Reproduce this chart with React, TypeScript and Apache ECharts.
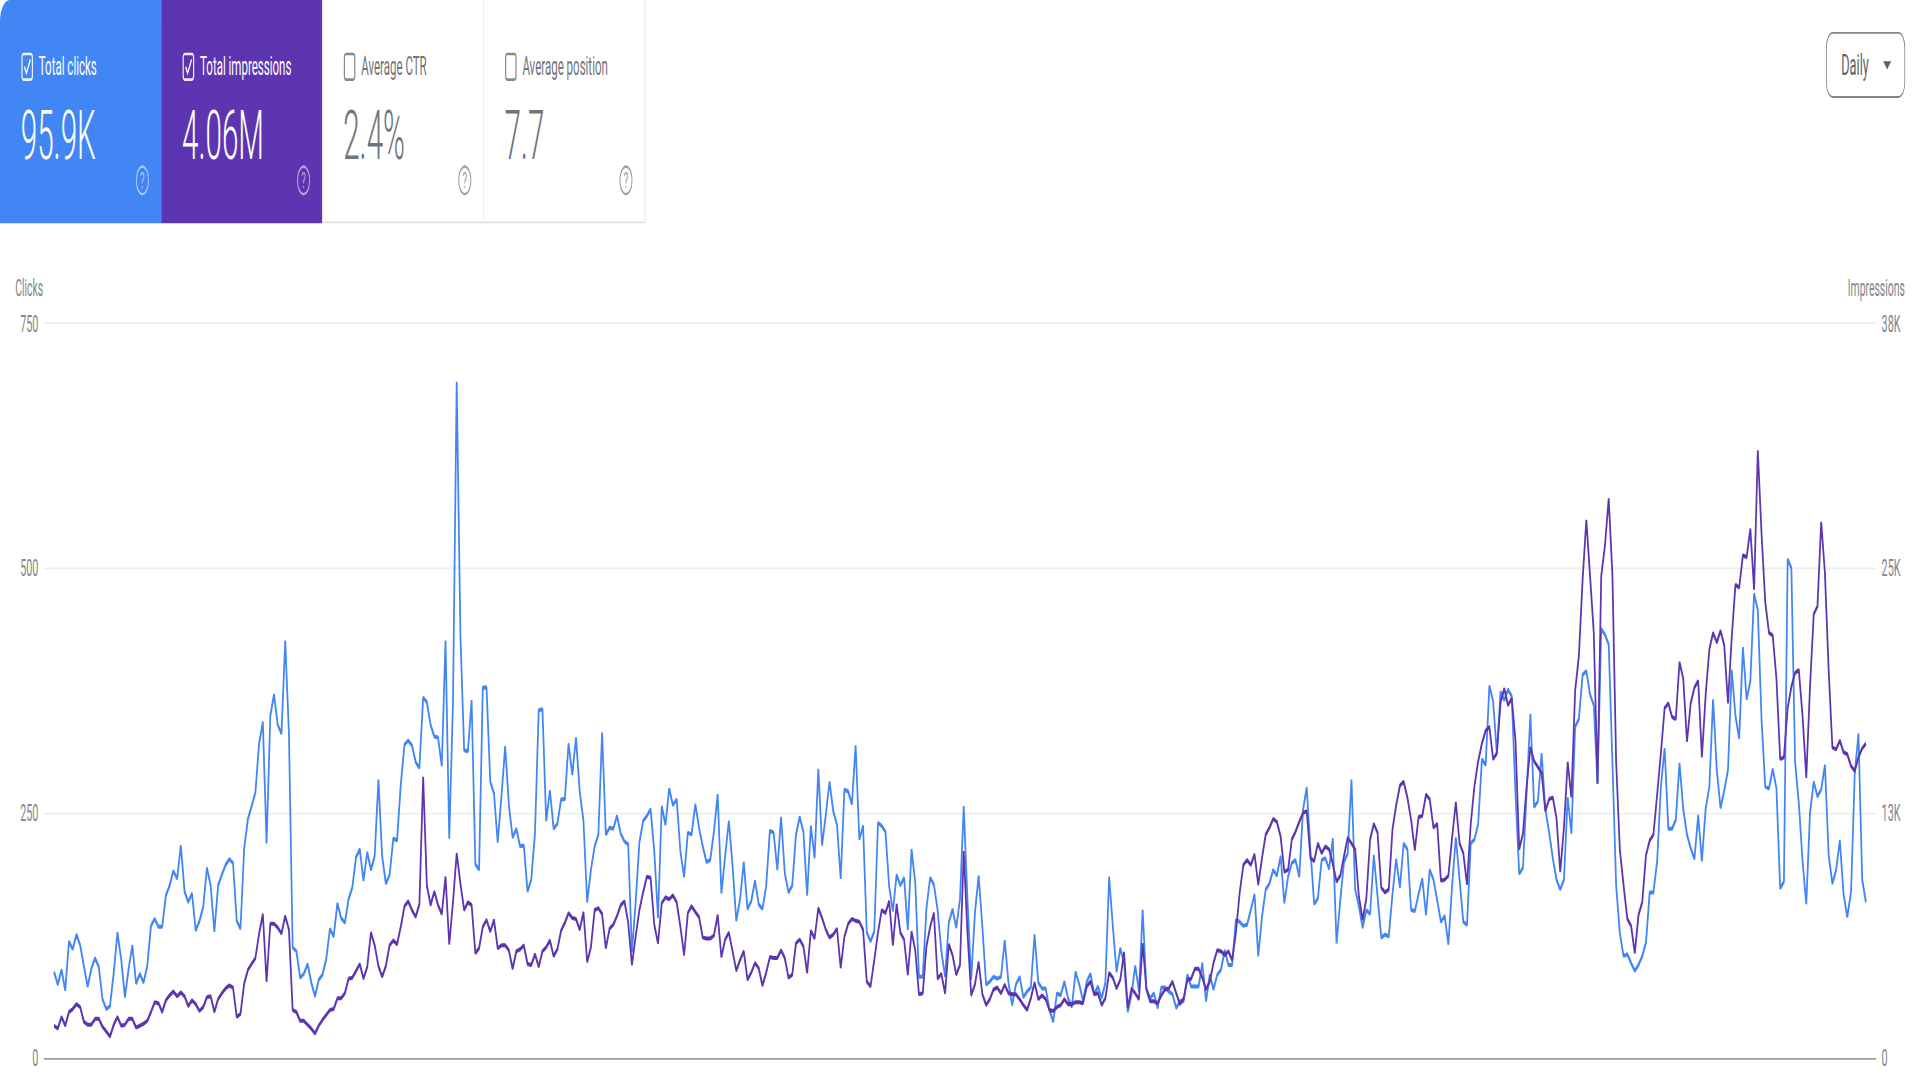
import React, { useEffect, useRef } from "react";
import * as echarts from "echarts";

const clicks = [
  88,75,90,69,119,111,126,115,94,73,91,102,93,60,50,53,87,128,101,62,91,115,76,86,77,94,135,142,134,134,166,176,191,183,217,170,159,168,130,140,154,194,176,129,176,187,197,203,199,140,132,214,244,257,271,321,343,219,349,371,340,331,426,331,113,109,82,86,96,77,63,80,85,101,132,124,158,143,138,162,174,205,213,
  181,210,192,206,284,206,178,187,224,222,279,320,324,319,302,296,368,363,340,328,327,298,426,224,363,690,431,314,313,365,198,192,378,378,282,270,220,267,318,258,225,234,216,217,170,182,230,355,356,242,273,234,239,264,264,321,289,327,272,242,159,192,216,228,332,228,235,234,247,229,221,218,108,159,220,242,247,254,211,143,257,238,275,258,264,211,
  185,230,228,259,235,216,200,202,231,269,168,206,242,196,140,162,200,152,160,181,157,152,175,232,230,192,246,189,169,176,228,246,231,166,237,204,295,217,248,282,252,238,183,274,272,259,319,223,237,128,119,129,240,237,231,175,150,187,176,184,131,213,179,83,83,153,184,177,151,109,83,138,152,133,162,257,162,80,148,186,134,75,78,83,81,83,
  120,77,54,75,83,62,68,72,126,77,71,71,49,37,66,64,78,61,52,88,75,58,78,86,65,73,61,77,185,134,88,112,97,47,65,94,68,151,71,61,66,51,72,72,68,65,51,58,58,85,73,73,73,97,58,85,70,85,90,110,95,95,141,139,135,136,151,167,104,144,172,178,192,186,206,158,185,199,202,185,253,276,212,157,163,
  202,204,193,224,117,161,200,209,284,172,155,133,151,147,207,165,123,126,124,167,203,174,219,213,151,150,167,183,146,192,182,161,139,145,116,176,225,182,139,136,219,223,239,305,299,380,364,311,374,365,376,369,270,188,194,272,351,256,262,311,254,231,204,182,172,182,266,229,338,346,391,395,371,360,280,438,432,422,
  302,176,127,104,106,97,89,95,104,118,169,169,201,277,316,234,234,243,301,254,228,214,203,248,201,254,277,366,294,255,273,294,396,349,326,419,366,385,474,457,345,277,275,295,275,173,180,509,500,302,260,201,157,250,282,267,274,299,207,178,192,222,167,144,169,290,331,182,159,
];

const impressions = [
  1650,1500,2100,1650,2350,2500,2750,2600,1850,1700,1700,2000,2000,1600,1350,1100,1700,2100,1650,1700,2000,2000,1550,1650,1750,1900,2350,2850,2800,2350,2950,3200,3400,3150,3350,3150,2650,2950,2750,2400,2600,3100,3150,2350,3000,3300,3550,3700,3600,2100,2250,3800,4500,4800,5100,6350,7350,3900,6850,6850,6650,6350,7250,6550,2450,2350,1900,1900,1700,1500,1250,1650,1950,2200,2450,2500,3050,3050,3300,4050,4100,4450,4800,
  4050,4650,6400,5750,4700,4150,4700,5750,6000,5800,6700,7750,8000,7550,7200,7850,14350,8800,7800,8500,7800,7350,9250,5800,7950,10450,8900,7550,7950,7800,5350,5600,6700,7050,6450,7050,5600,5750,5750,5500,4550,5450,5550,5750,4800,4750,5300,4650,5450,5650,6000,5200,5550,6500,6900,7400,7150,7100,6550,7450,4900,5650,7550,7650,7350,5600,6600,6800,7250,7800,8000,6900,4750,6200,7550,8450,9250,9200,6800,5850,7900,8200,8100,8300,7950,6700,
  5250,7400,7750,7450,7200,6150,6100,6100,6250,7300,5150,6050,6400,5450,4450,5000,5450,4000,4350,4850,4600,3700,4350,5150,5100,5100,5500,5100,4100,4250,5850,6050,5700,4350,6500,6100,7650,7150,6550,6150,6300,6600,4600,6200,6850,7100,7000,6950,6550,3900,3650,5000,6400,7550,7400,8000,5750,7850,6400,6050,4250,6450,5500,3250,3300,5700,6700,7400,4050,4300,3300,5800,5250,4250,4750,10550,6400,3200,3750,4900,3250,2700,3000,3500,3600,3300,
  3750,3300,3250,3250,3000,2700,2450,3050,3850,3000,3200,3000,2450,2400,2600,2700,3000,2750,2750,2850,2850,2800,3650,3900,3250,3300,2700,3050,4350,4100,3550,4000,5400,2550,3550,3300,3000,5850,3500,2900,2900,2800,3200,3500,3550,3900,3300,2750,3050,4000,4050,4550,4550,4100,3500,3900,4850,5500,5450,5250,5450,5000,6400,8400,9850,10100,9850,10400,8850,10200,11400,11750,12200,12050,11300,9500,9600,11150,11550,12050,12500,12600,10200,10050,10950,
  10450,10800,10650,9900,9000,9300,10300,11250,10950,10650,8250,7050,8150,11150,11950,11500,8700,8450,8600,11650,12900,13900,14100,13300,12150,10600,12300,12350,13450,13200,11750,11950,9050,9100,9300,11250,13050,10950,10450,8850,11950,13900,15150,16050,16700,16900,15250,15550,18150,18850,18000,18350,16200,10650,11450,13900,15850,15150,14850,14550,12600,13200,13300,12250,9500,11750,15100,13300,18750,20500,24400,27450,24600,21700,14000,24600,26150,28550,
  24650,15100,10600,8800,7100,6750,5350,7300,7950,10350,11100,11400,13450,15550,17850,18100,17400,17300,20200,19350,16150,18100,18900,19250,15350,18500,20850,21700,21200,21800,21050,18100,21450,24150,24000,25650,25550,27000,23900,31000,26750,23250,21700,21550,19350,15250,15350,17850,18950,19650,19800,17450,14300,18950,22650,23050,27350,24750,19800,15850,15750,16200,15600,15500,14900,14650,15350,15800,16050,
];

const leftMax = 750;
const leftInterval = 250;
const rightMax = 37500;
const rightInterval = 12500;
const rightTickLabels = ["0", "13K", "25K", "38K"];

const cards = [
  { label: "Total clicks", value: "95.9K", bg: "#4285f4", checked: true },
  { label: "Total impressions", value: "4.06M", bg: "#5e35b1", checked: true },
  { label: "Average CTR", value: "2.4%", bg: "#ffffff", checked: false },
  { label: "Average position", value: "7.7", bg: "#ffffff", checked: false },
];

const FONT = "Roboto, 'Noto Sans', sans-serif";
const W = 2400;
const H = 590;
const CARD_W = 201.5;
const CARD_H = 122;

function buildGraphic() {
  const els: any[] = [];
  cards.forEach((c, i) => {
    const x0 = i * CARD_W;
    const filled = c.checked;
    const fg = filled ? "#ffffff" : "#70757a";
    const help = filled ? "rgba(255,255,255,0.55)" : "#9aa0a6";
    els.push({
      type: "rect",
      shape: { x: x0, y: 0, width: CARD_W, height: CARD_H, r: i === 0 ? [12, 0, 0, 0] : 0 },
      style: { fill: c.bg },
    });
    if (!filled) {
      els.push({
        type: "line",
        shape: { x1: x0 + CARD_W, y1: 0, x2: x0 + CARD_W, y2: CARD_H },
        style: { stroke: "#e0e0e0", lineWidth: 1 },
      });
      els.push({
        type: "line",
        shape: { x1: x0, y1: CARD_H - 0.5, x2: x0 + CARD_W, y2: CARD_H - 0.5 },
        style: { stroke: "#e0e0e0", lineWidth: 1 },
      });
    }
    els.push({
      type: "rect",
      shape: { x: x0 + 27.5, y: 29.5, width: 13, height: 14, r: 2 },
      style: { fill: "none", stroke: fg, lineWidth: 1.5, opacity: filled ? 0.9 : 0.85 },
    });
    if (filled) {
      els.push({
        type: "polyline",
        shape: { points: [[x0 + 30.5, 36.5], [x0 + 33, 40], [x0 + 38, 32.5]] },
        style: { fill: "none", stroke: "#ffffff", lineWidth: 1.4 },
      });
    }
    els.push({
      type: "text",
      style: { text: c.label, x: x0 + 48.5, y: 36, fontSize: 14.4, fontFamily: FONT, fill: fg, textVerticalAlign: "middle" },
    });
    els.push({
      type: "text",
      style: { text: c.value, x: x0 + 26, y: 74.5, fontSize: 37, fontWeight: 300, fontFamily: FONT, fill: fg, textVerticalAlign: "middle" },
    });
    els.push({
      type: "circle",
      shape: { cx: x0 + 178, cy: 98.5, r: 7.5 },
      style: { fill: "none", stroke: help, lineWidth: 1.3 },
    });
    els.push({
      type: "text",
      style: { text: "?", x: x0 + 178, y: 98.5, fontSize: 12, fontFamily: FONT, fill: help, textAlign: "center", textVerticalAlign: "middle" },
    });
  });

  els.push({
    type: "rect",
    shape: { x: 2283, y: 18, width: 98, height: 35, r: 8 },
    style: { fill: "#ffffff", stroke: "#80868b", lineWidth: 1 },
  });
  els.push({
    type: "text",
    style: { text: "Daily", x: 2301.5, y: 35.5, fontSize: 16, fontWeight: 400, fontFamily: FONT, fill: "#5f6368", textVerticalAlign: "middle" },
  });
  els.push({
    type: "polygon",
    shape: { points: [[2354, 33.5], [2364, 33.5], [2359, 38]] },
    style: { fill: "#5f6368" },
  });
  els.push({
    type: "text",
    style: { text: "Clicks", x: 54, y: 157, fontSize: 13, fontFamily: FONT, fill: "#80868b", textAlign: "right", textVerticalAlign: "middle" },
  });
  els.push({
    type: "text",
    style: { text: "Impressions", x: 2381, y: 157, fontSize: 13, fontFamily: FONT, fill: "#80868b", textAlign: "right", textVerticalAlign: "middle" },
  });
  return els;
}

export default function App() {
  const ref = useRef<HTMLDivElement>(null);
  useEffect(() => {
    if (!ref.current) return;
    const chart = echarts.init(ref.current, undefined, { renderer: "svg" });
    const pad = 2.7;
    chart.setOption({
      animation: false,
      backgroundColor: "#ffffff",
      textStyle: { fontFamily: FONT },
      grid: { left: 55, right: 55, top: 176.5, bottom: 12, containLabel: false },
      xAxis: {
        type: "value",
        min: -pad,
        max: clicks.length - 1 + pad,
        axisLabel: { show: false },
        axisTick: { show: false },
        splitLine: { show: false },
        axisLine: { show: true, onZero: false, lineStyle: { color: "#9e9e9e", width: 1 } },
      },
      yAxis: [
        {
          type: "value",
          min: 0,
          max: leftMax,
          interval: leftInterval,
          axisLine: { show: false },
          axisTick: { show: false },
          axisLabel: { color: "#80868b", fontSize: 13.5, margin: 7, fontFamily: FONT, lineHeight: 13, padding: [0, 0, 2, 0] },
          splitLine: { show: true, lineStyle: { color: "#eeeeee", width: 1 } },
        },
        {
          type: "value",
          min: 0,
          max: rightMax,
          interval: rightInterval,
          position: "right",
          axisLine: { show: false },
          axisTick: { show: false },
          axisLabel: {
            color: "#80868b",
            fontSize: 13.5,
            margin: 7,
            fontFamily: FONT,
            lineHeight: 13,
            padding: [0, 0, 2, 0],
            formatter: (v: number) => rightTickLabels[Math.round(v / rightInterval)],
          },
          splitLine: { show: false },
        },
      ],
      series: [
        {
          name: "Clicks",
          type: "line",
          yAxisIndex: 0,
          showSymbol: false,
          symbol: "none",
          lineStyle: { color: "#4285f4", width: 2.2 },
          data: clicks.map((v, i) => [i, v]),
        },
        {
          name: "Impressions",
          type: "line",
          yAxisIndex: 1,
          showSymbol: false,
          symbol: "none",
          lineStyle: { color: "#5e35b1", width: 2.2 },
          data: impressions.map((v, i) => [i, v]),
        },
      ],
      graphic: buildGraphic(),
    });
    return () => chart.dispose();
  }, []);
  return (
    <div style={{ position: "fixed", left: 0, top: 0, width: 1920, height: 1080, overflow: "hidden", background: "#fff" }}>
      <div
        ref={ref}
        style={{
          width: W,
          height: H,
          transformOrigin: "0 0",
          transform: `scale(${1920 / W}, ${1080 / H})`,
        }}
      />
    </div>
  );
}
